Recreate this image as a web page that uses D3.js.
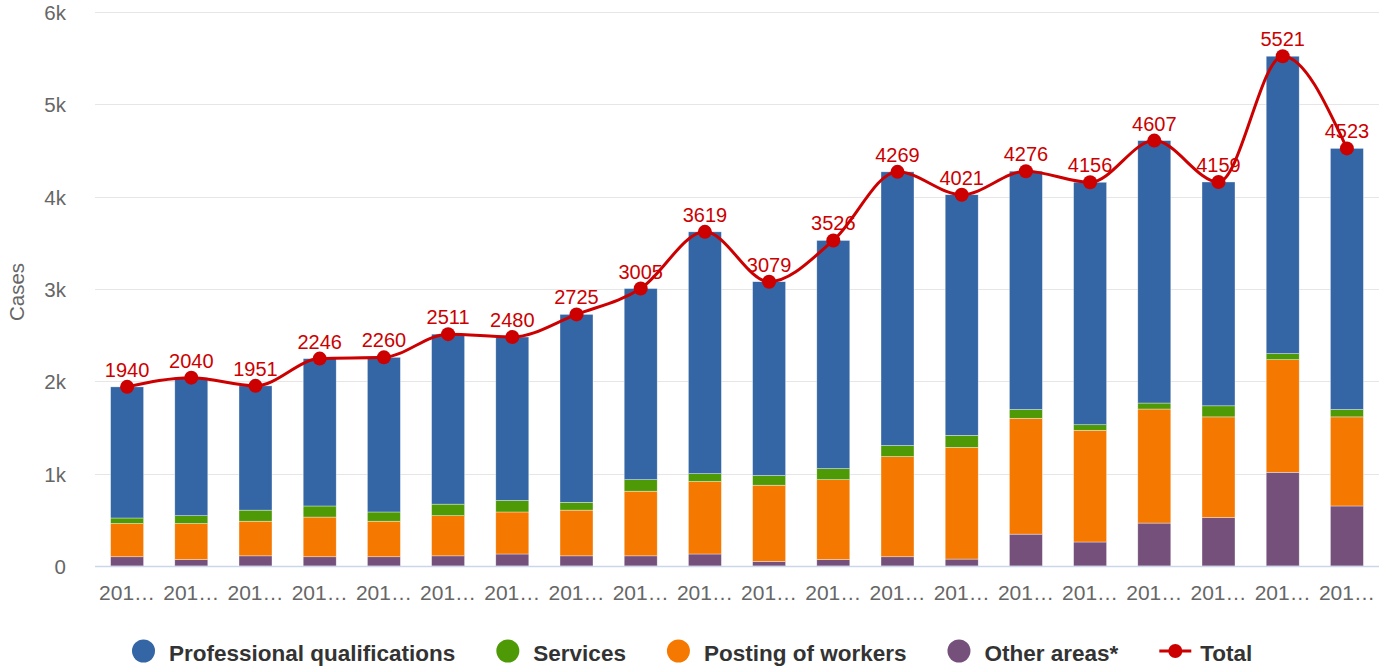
<!DOCTYPE html>
<html>
<head>
<meta charset="utf-8">
<script src="https://cdn.jsdelivr.net/npm/d3@7"></script>
<style>
  body { margin: 0; background: #fff; }
  text { font-family: "Liberation Sans", Arial, sans-serif; }
</style>
</head>
<body>
<div id="chart"></div>
<script>
// data
var categories = ["201…", "201…", "201…", "201…", "201…", "201…", "201…", "201…", "201…", "201…",
                  "201…", "201…", "201…", "201…", "201…", "201…", "201…", "201…", "201…", "201…"];
var otherAreas = [100, 70, 110, 100, 100, 110, 130, 110, 110, 130, 50, 70, 100, 75, 345, 260, 465, 525, 1015, 650];
var posting    = [360, 390, 375, 430, 385, 435, 455, 495, 700, 785, 825, 865, 1085, 1210, 1255, 1210, 1235, 1090, 1220, 965];
var services   = [60, 85, 120, 120, 100, 125, 125, 85, 125, 85, 105, 120, 120, 130, 95, 60, 65, 120, 65, 80];
var total      = [1940, 2040, 1951, 2246, 2260, 2511, 2480, 2725, 3005, 3619, 3079, 3526, 4269, 4021, 4276, 4156, 4607, 4159, 5521, 4523];
var yTicks = [0, 1000, 2000, 3000, 4000, 5000, 6000];
var yTickLabels = ["0", "1k", "2k", "3k", "4k", "5k", "6k"];

// professional qualifications = remainder of the total
var profQual = total.map(function(t, i) {
    return t - otherAreas[i] - posting[i] - services[i];
});

var series = [
    { key: "other", name: "Other areas*", colour: "#75507b", values: otherAreas },
    { key: "posting", name: "Posting of workers", colour: "#f57900", values: posting },
    { key: "services", name: "Services", colour: "#4e9a06", values: services },
    { key: "prof", name: "Professional qualifications", colour: "#3465a4", values: profQual }
];

var width = 1389;
var height = 670;
var margin = { top: 12, right: 10, bottom: 104, left: 95 };
var innerW = width - margin.left - margin.right;
var innerH = height - margin.top - margin.bottom;

var svg = d3.select("#chart")
    .append("svg")
    .attr("width", width)
    .attr("height", height);

var g = svg.append("g")
    .attr("transform", "translate(" + margin.left + "," + margin.top + ")");

var xScale = d3.scaleBand()
    .domain(d3.range(categories.length))
    .range([0, innerW])
    .paddingInner(0.486)
    .paddingOuter(0.243);

var yScale = d3.scaleLinear()
    .domain([0, 6000])
    .range([innerH, 0]);

// gridlines
g.selectAll(".grid")
    .data(yTicks.slice(1))
    .enter()
    .append("line")
    .attr("x1", 0)
    .attr("x2", innerW)
    .attr("y1", function(d) { return Math.round(yScale(d)) + 0.5; })
    .attr("y2", function(d) { return Math.round(yScale(d)) + 0.5; })
    .attr("stroke", "#e6e6e6")
    .attr("stroke-width", 1);

// y tick labels
g.selectAll(".ytick")
    .data(yTicks)
    .enter()
    .append("text")
    .attr("x", -29)
    .attr("y", function(d) { return yScale(d) + 8; })
    .attr("text-anchor", "end")
    .style("font-size", "20.5px")
    .style("fill", "#666")
    .text(function(d, i) { return yTickLabels[i]; });

// y title
svg.append("text")
    .attr("transform", "translate(24,292) rotate(-90)")
    .attr("text-anchor", "middle")
    .style("font-size", "20.5px")
    .style("fill", "#666")
    .text("Cases");

// stacked bars
var rows = categories.map(function(c, i) {
    var r = { idx: i };
    series.forEach(function(s) { r[s.key] = s.values[i]; });
    return r;
});
var stack = d3.stack().keys(series.map(function(s) { return s.key; }));
var stacked = stack(rows);

g.selectAll(".layer")
    .data(stacked)
    .enter()
    .append("g")
    .attr("fill", function(d, i) { return series[i].colour; })
    .selectAll("rect")
    .data(function(d) { return d; })
    .enter()
    .append("rect")
    .attr("x", function(d) { return xScale(d.data.idx); })
    .attr("width", xScale.bandwidth())
    .attr("y", function(d) { return yScale(d[1]); })
    .attr("height", function(d) { return yScale(d[0]) - yScale(d[1]); })
    .attr("stroke", "#fff")
    .attr("stroke-width", 0.6)
    .attr("stroke-opacity", 0.6);

// x axis line
g.append("line")
    .attr("x1", 0)
    .attr("x2", innerW)
    .attr("y1", innerH + 0.5)
    .attr("y2", innerH + 0.5)
    .attr("stroke", "#ccd6eb")
    .attr("stroke-width", 1.5);

// x labels
g.selectAll(".xlab")
    .data(categories)
    .enter()
    .append("text")
    .attr("x", function(d, i) { return xScale(i) + xScale.bandwidth() / 2; })
    .attr("y", innerH + 34)
    .attr("text-anchor", "middle")
    .style("font-size", "21px")
    .style("fill", "#666")
    .text(function(d) { return d; });

// total line
var cx = function(i) { return xScale(i) + xScale.bandwidth() / 2; };

g.selectAll(".dlabel")
    .data(total)
    .enter()
    .append("text")
    .attr("x", function(d, i) { return cx(i); })
    .attr("y", function(d) { return yScale(d) - 10; })
    .attr("text-anchor", "middle")
    .style("font-size", "20px")
    .style("fill", "#cc0000")
    .text(function(d) { return d; });

var lineGen = d3.line()
    .curve(d3.curveMonotoneX)
    .x(function(d, i) { return cx(i); })
    .y(function(d) { return yScale(d); });

g.append("path")
    .attr("d", lineGen(total))
    .attr("fill", "none")
    .attr("stroke", "#cc0000")
    .attr("stroke-width", 3);

g.selectAll(".pt")
    .data(total)
    .enter()
    .append("circle")
    .attr("cx", function(d, i) { return cx(i); })
    .attr("cy", function(d) { return yScale(d); })
    .attr("r", 7)
    .attr("fill", "#cc0000");

// legend
var legendItems = [
    { name: "Professional qualifications", colour: "#3465a4", type: "dot" },
    { name: "Services", colour: "#4e9a06", type: "dot" },
    { name: "Posting of workers", colour: "#f57900", type: "dot" },
    { name: "Other areas*", colour: "#75507b", type: "dot" },
    { name: "Total", colour: "#cc0000", type: "line" }
];

var legend = svg.append("g");
var lx = 0;
var legendY = 651;
legendItems.forEach(function(item) {
    var ig = legend.append("g").attr("transform", "translate(" + lx + ",0)");
    var textX;
    if (item.type === "dot") {
        ig.append("circle")
            .attr("cx", 11.5)
            .attr("cy", legendY)
            .attr("r", 11.5)
            .attr("fill", item.colour);
        textX = 37;
    } else {
        ig.append("line")
            .attr("x1", 0)
            .attr("x2", 32)
            .attr("y1", legendY)
            .attr("y2", legendY)
            .attr("stroke", item.colour)
            .attr("stroke-width", 3);
        ig.append("circle")
            .attr("cx", 16)
            .attr("cy", legendY)
            .attr("r", 7)
            .attr("fill", item.colour);
        textX = 41;
    }
    var t = ig.append("text")
        .attr("x", textX)
        .attr("y", 661)
        .style("font-size", "22.5px")
        .style("font-weight", "bold")
        .style("fill", "#333")
        .text(item.name);
    lx += textX + t.node().getComputedTextLength() + 41;
});
var legendW = lx - 41;
legend.attr("transform", "translate(" + Math.round((width - legendW) / 2 - 2) + ",0)");
</script>
</body>
</html>
